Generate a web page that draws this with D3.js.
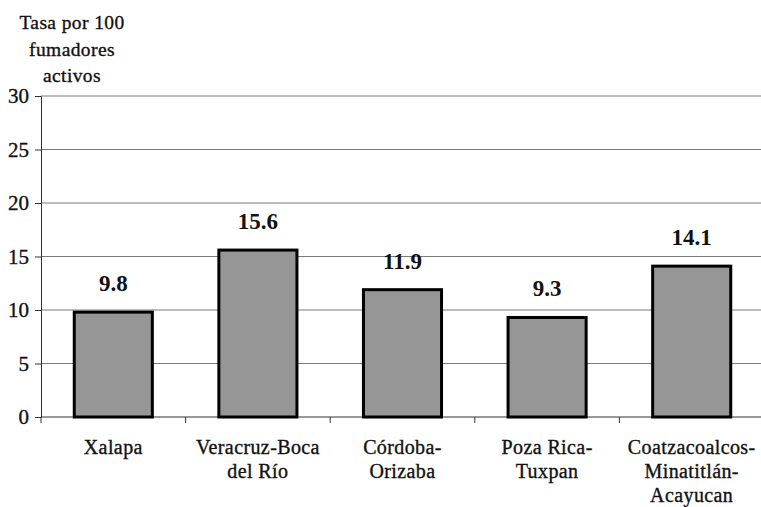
<!DOCTYPE html>
<html>
<head>
<meta charset="utf-8">
<script src="https://cdn.jsdelivr.net/npm/d3@7"></script>
<style>
  html, body { margin: 0; padding: 0; background: #fff; }
  svg { display: block; }
  text { fill: #111; }
  text.heavy { stroke: #111; stroke-width: 0.35px; }
</style>
</head>
<body>
<svg id="chart" width="761" height="507" font-family="Liberation Serif"></svg>
<script>
// Regions (each label broken into its display lines)
const categories = [
  ["Xalapa"],
  ["Veracruz-Boca", "del Río"],
  ["Córdoba-", "Orizaba"],
  ["Poza Rica-", "Tuxpan"],
  ["Coatzacoalcos-", "Minatitlán-", "Acayucan"]
];
const values = [9.8, 15.6, 11.9, 9.3, 14.1];
const yTicks = [0, 5, 10, 15, 20, 25, 30];
const yTitle = ["Tasa por 100", "fumadores", "activos"];

const FONT = "Liberation Serif";
const svg = d3.select("#chart");
const margin = { left: 41, right: -3, top: 96, bottom: 90 };
const W = 761, H = 507;

const x = d3.scaleBand()
  .domain(categories.map((d, i) => i))
  .range([margin.left, W - margin.right])
  .paddingInner(0.46)
  .paddingOuter(0.23);

const y = d3.scaleLinear()
  .domain([0, 30])
  .range([H - margin.bottom, margin.top]);

// Horizontal gridlines
svg.append("g")
  .selectAll("line")
  .data(yTicks.filter(t => t > 0))
  .join("line")
  .attr("x1", margin.left)
  .attr("x2", W)
  .attr("y1", d => y(d))
  .attr("y2", d => y(d))
  .attr("stroke", "#7a7a7a")
  .attr("stroke-width", 1);

// Y axis
const yAxis = svg.append("g")
  .attr("transform", `translate(${margin.left},0)`)
  .call(d3.axisLeft(y).tickValues(yTicks).tickSize(6).tickPadding(6).tickFormat(d3.format("d")));
yAxis.attr("font-family", FONT);
yAxis.select(".domain").attr("stroke", "#333");
yAxis.selectAll(".tick line").attr("stroke", "#333");
yAxis.selectAll(".tick text")
  .attr("class", "heavy")
  .attr("font-size", 21)
  .attr("font-family", FONT)
  .attr("fill", "#111")
  .attr("dy", "0.33em");

// X axis line with tick marks between categories
const xAxisG = svg.append("g");
xAxisG.append("line")
  .attr("x1", margin.left).attr("x2", W)
  .attr("y1", y(0)).attr("y2", y(0))
  .attr("stroke", "#333");
const bounds = d3.range(categories.length + 1).map(i => margin.left + i * x.step());
xAxisG.selectAll("line.tk")
  .data(bounds)
  .join("line")
  .attr("class", "tk")
  .attr("x1", d => d).attr("x2", d => d)
  .attr("y1", y(0)).attr("y2", y(0) + 6)
  .attr("stroke", "#333");

// Bars
svg.append("g")
  .selectAll("rect")
  .data(values)
  .join("rect")
  .attr("x", (d, i) => x(i))
  .attr("width", x.bandwidth())
  .attr("y", d => y(d))
  .attr("height", d => y(0) - y(d))
  .attr("fill", "#969696")
  .attr("stroke", "#000")
  .attr("stroke-width", 3);

// Value labels
svg.append("g")
  .selectAll("text")
  .data(values)
  .join("text")
  .attr("x", (d, i) => x(i) + x.bandwidth() / 2)
  .attr("y", d => y(d) - 21)
  .attr("text-anchor", "middle")
  .attr("font-family", FONT)
  .attr("font-size", 23)
  .attr("font-weight", "bold")
  .text(d => d3.format(".1f")(d));

// Category labels
const catG = svg.append("g")
  .selectAll("text")
  .data(categories)
  .join("text")
  .attr("class", "heavy")
  .attr("x", (d, i) => x(i) + x.bandwidth() / 2)
  .attr("y", y(0) + 37)
  .attr("text-anchor", "middle")
  .attr("font-family", FONT)
  .attr("font-size", 20)
  .attr("letter-spacing", 0.4);
catG.selectAll("tspan")
  .data(d => d)
  .join("tspan")
  .attr("x", function () { return d3.select(this.parentNode).attr("x"); })
  .attr("dy", (d, j) => j === 0 ? 0 : 24)
  .text(d => d);

// Y axis title
svg.append("text")
  .attr("class", "heavy")
  .attr("x", 72)
  .attr("y", 29)
  .attr("text-anchor", "middle")
  .attr("font-family", FONT)
  .attr("font-size", 19.5)
  .attr("letter-spacing", 0.4)
  .selectAll("tspan")
  .data(yTitle)
  .join("tspan")
  .attr("x", 72)
  .attr("dy", (d, j) => j === 0 ? 0 : 26.5)
  .text(d => d);
</script>
</body>
</html>
